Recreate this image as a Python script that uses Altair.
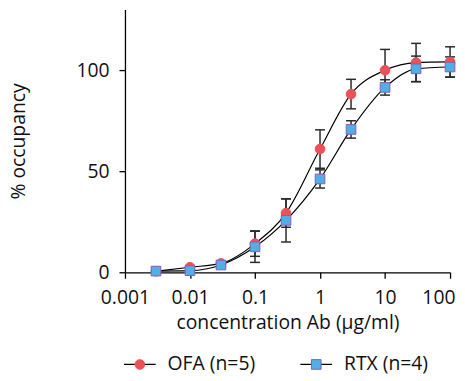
import altair as alt
import pandas as pd

conc = [0.003, 0.01, 0.03, 0.1, 0.3, 1, 3, 10, 30, 100]
ofa = [0.5, 2.5, 4.4, 14.2, 29.3, 61.0, 88.2, 100.0, 103.8, 104.1]
ofa_err = [0.5, 0.8, 1.0, 6.3, 7.0, 9.5, 7.3, 10.3, 9.5, 7.5]
rtx = [0.6, 0.8, 3.6, 12.6, 25.7, 46.2, 70.7, 91.5, 100.7, 101.6]
rtx_err = [0.5, 0.5, 1.0, 7.7, 10.7, 4.5, 4.3, 3.8, 6.3, 5.0]
series_names = ["OFA (n=5)", "RTX (n=4)"]
x_ticks = [0.001, 0.01, 0.1, 1, 10, 100]
y_ticks = [0, 50, 100]

fills = ["#EC5157", "#52AEE4"]
strokes = ["#EC5157", "#8A5DB8"]
shapes = ["circle", "square"]
FONT = "Open Sans"
FS = 19.5

rows = []
for name, vals, errs in ((series_names[0], ofa, ofa_err), (series_names[1], rtx, rtx_err)):
    for c, v, e in zip(conc, vals, errs):
        rows.append({"conc": c, "value": v, "lo": v - e, "hi": v + e, "series": name})
df = pd.DataFrame(rows)

xs = alt.Scale(type="log", domain=[0.001, 100], nice=False)
ys = alt.Scale(domain=[0, 130], nice=False)
x = alt.X("conc:Q", scale=xs, axis=alt.Axis(
    values=x_ticks, format="~g", labelFlush=False, labelOverlap=False,
    labelAlign={"condition": {"test": "datum.value >= 100", "value": "right"}, "value": "center"},
    labelOffset={"condition": {"test": "datum.value >= 100", "value": 5}, "value": 0},
    title="concentration Ab (µg/ml)", labelPadding=10, titlePadding=7))
y = alt.Y("value:Q", scale=ys, axis=alt.Axis(values=y_ticks, title="% occupancy",
          labelPadding=10, titlePadding=48))
col = alt.Color("series:N", scale=alt.Scale(domain=series_names, range=fills), legend=None)
stk = alt.Stroke("series:N", scale=alt.Scale(domain=series_names, range=strokes), legend=None)
shp = alt.Shape("series:N", scale=alt.Scale(domain=series_names, range=shapes), legend=None)

base = alt.Chart(df)
lines = base.mark_line(color="black", strokeWidth=1.2, interpolate="monotone").encode(
    x=x, y=y, detail="series:N")
bars = base.mark_rule(color="#2a2a2a", strokeWidth=1.5).encode(
    x=x, y=alt.Y("lo:Q", scale=ys), y2="hi:Q")
cap_hi = base.mark_rule(color="#2a2a2a", strokeWidth=1.5, xOffset=-5, x2Offset=5).encode(
    x=x, x2="conc:Q", y=alt.Y("hi:Q", scale=ys))
cap_lo = base.mark_rule(color="#2a2a2a", strokeWidth=1.5, xOffset=-5, x2Offset=5).encode(
    x=x, x2="conc:Q", y=alt.Y("lo:Q", scale=ys))
pts = base.mark_point(filled=True, opacity=1, size=95, strokeWidth=1).encode(
    x=x, y=y, color=col, stroke=stk, shape=shp)

top = alt.layer(lines, bars, cap_hi, cap_lo, pts).properties(width=328, height=265)

leg_df = pd.DataFrame({"series": series_names})
lx = alt.X("series:N", scale=alt.Scale(type="point", domain=series_names, range=[15, 193], padding=0),
           axis=None)
leg_line = alt.Chart(leg_df).mark_rule(color="black", strokeWidth=1.2, xOffset=-16, x2Offset=16).encode(
    x=lx, x2="series:N", y=alt.value(10))
leg_pts = alt.Chart(leg_df).mark_point(filled=True, opacity=1, size=95, strokeWidth=1).encode(
    x=lx, y=alt.value(10), color=col, stroke=stk, shape=shp)
leg_txt = alt.Chart(leg_df).mark_text(align="left", baseline="middle", dx=28, font=FONT,
                                      fontSize=FS, color="#111").encode(
    x=lx, y=alt.value(10), text="series:N")
legend = alt.layer(leg_line, leg_pts, leg_txt).properties(width=328, height=20)

chart = alt.vconcat(top, legend, spacing=23).properties(padding=0).configure_view(
    stroke=None).configure_axis(
    grid=False, domainColor="black", tickColor="black", domainWidth=1.3, tickWidth=1.3,
    tickSize=6, labelFont=FONT, titleFont=FONT, labelFontSize=FS, titleFontSize=FS,
    titleFontWeight="normal", labelColor="#111", titleColor="#111")

chart.save("out.html", embed_options={"renderer": "svg", "actions": False})
